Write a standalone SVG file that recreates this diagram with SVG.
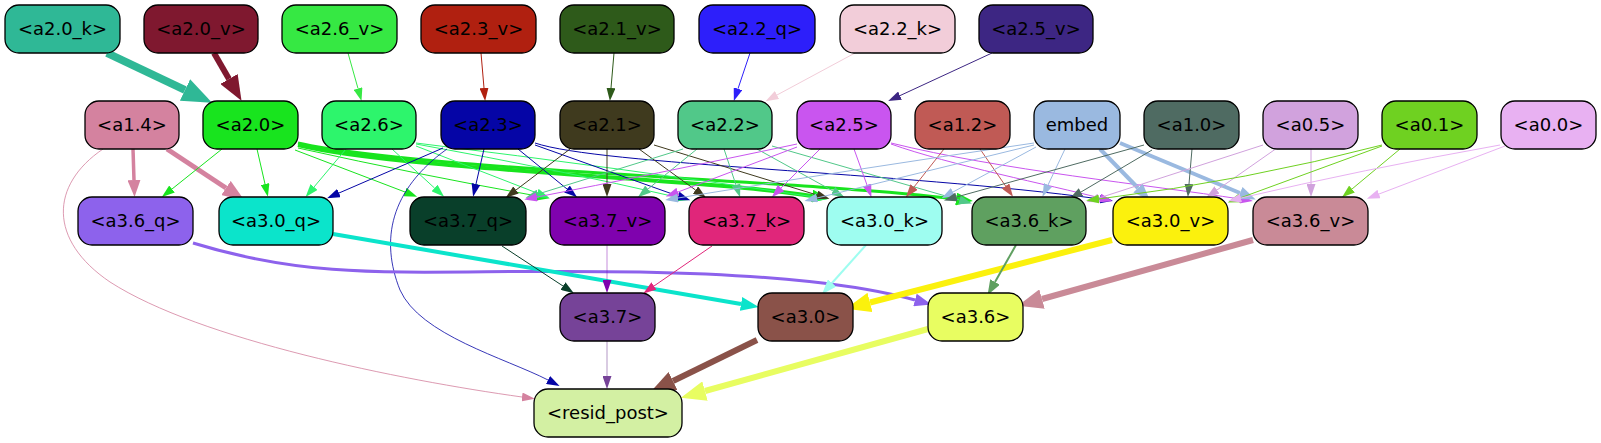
<svg xmlns="http://www.w3.org/2000/svg" width="1601" height="443" viewBox="0 0 1601 443">
<style>
.node rect{stroke:#000;stroke-width:1.3}
.node text{font-family:"DejaVu Sans","Liberation Sans",sans-serif;font-size:18px;text-anchor:middle;fill:#000}
#edges path{fill:none;stroke-width:1}
</style>
<defs>
<marker id="t-36e843" markerUnits="userSpaceOnUse" markerWidth="13" markerHeight="9" viewBox="0 0 13 9" refX="0" refY="4.5" orient="auto"><path d="M0,0L13,4.5L0,9z" fill="#36e843"/></marker>
<marker id="t-b02010" markerUnits="userSpaceOnUse" markerWidth="13" markerHeight="9" viewBox="0 0 13 9" refX="0" refY="4.5" orient="auto"><path d="M0,0L13,4.5L0,9z" fill="#b02010"/></marker>
<marker id="t-2e5a1a" markerUnits="userSpaceOnUse" markerWidth="13" markerHeight="9" viewBox="0 0 13 9" refX="0" refY="4.5" orient="auto"><path d="M0,0L13,4.5L0,9z" fill="#2e5a1a"/></marker>
<marker id="t-2d1ffa" markerUnits="userSpaceOnUse" markerWidth="13" markerHeight="9" viewBox="0 0 13 9" refX="0" refY="4.5" orient="auto"><path d="M0,0L13,4.5L0,9z" fill="#2d1ffa"/></marker>
<marker id="t-f2cdd9" markerUnits="userSpaceOnUse" markerWidth="13" markerHeight="9" viewBox="0 0 13 9" refX="0" refY="4.5" orient="auto"><path d="M0,0L13,4.5L0,9z" fill="#f2cdd9"/></marker>
<marker id="t-3d2683" markerUnits="userSpaceOnUse" markerWidth="13" markerHeight="9" viewBox="0 0 13 9" refX="0" refY="4.5" orient="auto"><path d="M0,0L13,4.5L0,9z" fill="#3d2683"/></marker>
<marker id="t-d4829f" markerUnits="userSpaceOnUse" markerWidth="13" markerHeight="9" viewBox="0 0 13 9" refX="0" refY="4.5" orient="auto"><path d="M0,0L13,4.5L0,9z" fill="#d4829f"/></marker>
<marker id="t-18e41e" markerUnits="userSpaceOnUse" markerWidth="13" markerHeight="9" viewBox="0 0 13 9" refX="0" refY="4.5" orient="auto"><path d="M0,0L13,4.5L0,9z" fill="#18e41e"/></marker>
<marker id="t-2df56c" markerUnits="userSpaceOnUse" markerWidth="13" markerHeight="9" viewBox="0 0 13 9" refX="0" refY="4.5" orient="auto"><path d="M0,0L13,4.5L0,9z" fill="#2df56c"/></marker>
<marker id="t-0505a6" markerUnits="userSpaceOnUse" markerWidth="13" markerHeight="9" viewBox="0 0 13 9" refX="0" refY="4.5" orient="auto"><path d="M0,0L13,4.5L0,9z" fill="#0505a6"/></marker>
<marker id="t-3f3a1e" markerUnits="userSpaceOnUse" markerWidth="13" markerHeight="9" viewBox="0 0 13 9" refX="0" refY="4.5" orient="auto"><path d="M0,0L13,4.5L0,9z" fill="#3f3a1e"/></marker>
<marker id="t-51c889" markerUnits="userSpaceOnUse" markerWidth="13" markerHeight="9" viewBox="0 0 13 9" refX="0" refY="4.5" orient="auto"><path d="M0,0L13,4.5L0,9z" fill="#51c889"/></marker>
<marker id="t-c955ef" markerUnits="userSpaceOnUse" markerWidth="13" markerHeight="9" viewBox="0 0 13 9" refX="0" refY="4.5" orient="auto"><path d="M0,0L13,4.5L0,9z" fill="#c955ef"/></marker>
<marker id="t-c05a55" markerUnits="userSpaceOnUse" markerWidth="13" markerHeight="9" viewBox="0 0 13 9" refX="0" refY="4.5" orient="auto"><path d="M0,0L13,4.5L0,9z" fill="#c05a55"/></marker>
<marker id="t-9ab9e0" markerUnits="userSpaceOnUse" markerWidth="13" markerHeight="9" viewBox="0 0 13 9" refX="0" refY="4.5" orient="auto"><path d="M0,0L13,4.5L0,9z" fill="#9ab9e0"/></marker>
<marker id="t-4f6b62" markerUnits="userSpaceOnUse" markerWidth="13" markerHeight="9" viewBox="0 0 13 9" refX="0" refY="4.5" orient="auto"><path d="M0,0L13,4.5L0,9z" fill="#4f6b62"/></marker>
<marker id="t-d1a2dd" markerUnits="userSpaceOnUse" markerWidth="13" markerHeight="9" viewBox="0 0 13 9" refX="0" refY="4.5" orient="auto"><path d="M0,0L13,4.5L0,9z" fill="#d1a2dd"/></marker>
<marker id="t-6fd121" markerUnits="userSpaceOnUse" markerWidth="13" markerHeight="9" viewBox="0 0 13 9" refX="0" refY="4.5" orient="auto"><path d="M0,0L13,4.5L0,9z" fill="#6fd121"/></marker>
<marker id="t-e8b1f2" markerUnits="userSpaceOnUse" markerWidth="13" markerHeight="9" viewBox="0 0 13 9" refX="0" refY="4.5" orient="auto"><path d="M0,0L13,4.5L0,9z" fill="#e8b1f2"/></marker>
<marker id="t-093f2a" markerUnits="userSpaceOnUse" markerWidth="13" markerHeight="9" viewBox="0 0 13 9" refX="0" refY="4.5" orient="auto"><path d="M0,0L13,4.5L0,9z" fill="#093f2a"/></marker>
<marker id="t-7f02ae" markerUnits="userSpaceOnUse" markerWidth="13" markerHeight="9" viewBox="0 0 13 9" refX="0" refY="4.5" orient="auto"><path d="M0,0L13,4.5L0,9z" fill="#7f02ae"/></marker>
<marker id="t-e0267a" markerUnits="userSpaceOnUse" markerWidth="13" markerHeight="9" viewBox="0 0 13 9" refX="0" refY="4.5" orient="auto"><path d="M0,0L13,4.5L0,9z" fill="#e0267a"/></marker>
<marker id="t-764398" markerUnits="userSpaceOnUse" markerWidth="13" markerHeight="9" viewBox="0 0 13 9" refX="0" refY="4.5" orient="auto"><path d="M0,0L13,4.5L0,9z" fill="#764398"/></marker>
<marker id="m-d4829f" markerUnits="userSpaceOnUse" markerWidth="17" markerHeight="13" viewBox="0 0 17 13" refX="0" refY="6.5" orient="auto"><path d="M0,0L17,6.5L0,13z" fill="#d4829f"/></marker>
<marker id="m-18e41e" markerUnits="userSpaceOnUse" markerWidth="17" markerHeight="13" viewBox="0 0 17 13" refX="0" refY="6.5" orient="auto"><path d="M0,0L17,6.5L0,13z" fill="#18e41e"/></marker>
<marker id="m-9ab9e0" markerUnits="userSpaceOnUse" markerWidth="17" markerHeight="13" viewBox="0 0 17 13" refX="0" refY="6.5" orient="auto"><path d="M0,0L17,6.5L0,13z" fill="#9ab9e0"/></marker>
<marker id="m-8d62ec" markerUnits="userSpaceOnUse" markerWidth="17" markerHeight="13" viewBox="0 0 17 13" refX="0" refY="6.5" orient="auto"><path d="M0,0L17,6.5L0,13z" fill="#8d62ec"/></marker>
<marker id="m-0be4cb" markerUnits="userSpaceOnUse" markerWidth="18" markerHeight="14" viewBox="0 0 18 14" refX="0" refY="7" orient="auto"><path d="M0,0L18,7L0,14z" fill="#0be4cb"/></marker>
<marker id="m-9efdf0" markerUnits="userSpaceOnUse" markerWidth="15" markerHeight="11" viewBox="0 0 15 11" refX="0" refY="5.5" orient="auto"><path d="M0,0L15,5.5L0,11z" fill="#9efdf0"/></marker>
<marker id="m-5fa060" markerUnits="userSpaceOnUse" markerWidth="15" markerHeight="11" viewBox="0 0 15 11" refX="0" refY="5.5" orient="auto"><path d="M0,0L15,5.5L0,11z" fill="#5fa060"/></marker>
<marker id="l-d4829f" markerUnits="userSpaceOnUse" markerWidth="22" markerHeight="17" viewBox="0 0 22 17" refX="0" refY="8.5" orient="auto"><path d="M0,0L22,8.5L0,17z" fill="#d4829f"/></marker>
<marker id="l-7f182f" markerUnits="userSpaceOnUse" markerWidth="25" markerHeight="20" viewBox="0 0 25 20" refX="0" refY="10" orient="auto"><path d="M0,0L25,10L0,20z" fill="#7f182f"/></marker>
<marker id="l-fbf10d" markerUnits="userSpaceOnUse" markerWidth="25" markerHeight="20" viewBox="0 0 25 20" refX="0" refY="10" orient="auto"><path d="M0,0L25,10L0,20z" fill="#fbf10d"/></marker>
<marker id="l-c98a97" markerUnits="userSpaceOnUse" markerWidth="25" markerHeight="20" viewBox="0 0 25 20" refX="0" refY="10" orient="auto"><path d="M0,0L25,10L0,20z" fill="#c98a97"/></marker>
<marker id="l-8a5249" markerUnits="userSpaceOnUse" markerWidth="25" markerHeight="20" viewBox="0 0 25 20" refX="0" refY="10" orient="auto"><path d="M0,0L25,10L0,20z" fill="#8a5249"/></marker>
<marker id="l-e8fd61" markerUnits="userSpaceOnUse" markerWidth="25" markerHeight="20" viewBox="0 0 25 20" refX="0" refY="10" orient="auto"><path d="M0,0L25,10L0,20z" fill="#e8fd61"/></marker>
<marker id="l-2fb896" markerUnits="userSpaceOnUse" markerWidth="30" markerHeight="24" viewBox="0 0 30 24" refX="0" refY="12" orient="auto"><path d="M0,0L30,12L0,24z" fill="#2fb896"/></marker>
</defs>
<rect width="1601" height="443" fill="#fff"/>
<g id="edges">
<path d="M107,53 L185,90" stroke="#2fb896" style="stroke-width:8" marker-end="url(#l-2fb896)"/>
<path d="M214,53 L229,79" stroke="#7f182f" style="stroke-width:6" marker-end="url(#l-7f182f)"/>
<path d="M348,53 L358,88.5" stroke="#36e843" marker-end="url(#t-36e843)"/>
<path d="M481,53 L484,88" stroke="#b02010" marker-end="url(#t-b02010)"/>
<path d="M614,53 L611,88" stroke="#2e5a1a" marker-end="url(#t-2e5a1a)"/>
<path d="M750,53 L738,88.7" stroke="#2d1ffa" marker-end="url(#t-2d1ffa)"/>
<path d="M855,53 L777,95" stroke="#f2cdd9" marker-end="url(#t-f2cdd9)"/>
<path d="M992,53 L900,95.6" stroke="#3d2683" marker-end="url(#t-3d2683)"/>
<path d="M133,149 L134,180" stroke="#d4829f" style="stroke-width:3.5" marker-end="url(#m-d4829f)"/>
<path d="M167,149 L226,188" stroke="#d4829f" style="stroke-width:5" marker-end="url(#l-d4829f)"/>
<path d="M103,149 C50,185 48,240 110,282 C200,340 400,380 522,397" stroke="#d4829f" stroke-opacity="0.9" style="stroke-width:0.9" marker-end="url(#t-d4829f)"/>
<path d="M222,149 L172,189" stroke="#18e41e" marker-end="url(#t-18e41e)"/>
<path d="M257,149 L265,184" stroke="#18e41e" marker-end="url(#t-18e41e)"/>
<path d="M295,150 L405,192" stroke="#18e41e" marker-end="url(#t-18e41e)"/>
<path d="M298,148 Q420,175 537,196" stroke="#18e41e" marker-end="url(#t-18e41e)"/>
<path d="M298,145 C400,170 700,178 812,196" stroke="#18e41e" style="stroke-width:4" marker-end="url(#m-18e41e)"/>
<path d="M298,143 C420,170 800,180 956,199" stroke="#18e41e" style="stroke-width:3" marker-end="url(#m-18e41e)"/>
<path d="M346,149 L314,187" stroke="#2df56c" marker-end="url(#t-2df56c)"/>
<path d="M392,149 L434.5,188" stroke="#2df56c" marker-end="url(#t-2df56c)"/>
<path d="M416,146 L537,193" stroke="#2df56c" marker-end="url(#t-2df56c)"/>
<path d="M416,144 Q560,170 676,197" stroke="#2df56c" marker-end="url(#t-2df56c)"/>
<path d="M416,143 Q620,168 815,197" stroke="#2df56c" marker-end="url(#t-2df56c)"/>
<path d="M443,148 L339,193" stroke="#0505a6" marker-end="url(#t-0505a6)"/>
<path d="M484,149 L476,184" stroke="#0505a6" marker-end="url(#t-0505a6)"/>
<path d="M518,149 L567,189" stroke="#0505a6" marker-end="url(#t-0505a6)"/>
<path d="M535,145 L678,196" stroke="#0505a6" marker-end="url(#t-0505a6)"/>
<path d="M535,143 C600,165 900,172 1100,199" stroke="#0505a6" marker-end="url(#t-0505a6)"/>
<path d="M447,149 C390,190 380,240 400,290 C420,335 505,358 548,380" stroke="#0505a6" style="stroke-width:0.8" marker-end="url(#t-0505a6)"/>
<path d="M570,149 L516,190" stroke="#3f3a1e" marker-end="url(#t-3f3a1e)"/>
<path d="M607,149 L607,184" stroke="#3f3a1e" marker-end="url(#t-3f3a1e)"/>
<path d="M639,149 L695.5,190" stroke="#3f3a1e" marker-end="url(#t-3f3a1e)"/>
<path d="M654,145 L817,195" stroke="#3f3a1e" marker-end="url(#t-3f3a1e)"/>
<path d="M683,149 L538,194" stroke="#51c889" marker-end="url(#t-51c889)"/>
<path d="M697,149 L648,189" stroke="#51c889" marker-end="url(#t-51c889)"/>
<path d="M724,149 L736,185" stroke="#51c889" marker-end="url(#t-51c889)"/>
<path d="M757,149 L833,191" stroke="#51c889" marker-end="url(#t-51c889)"/>
<path d="M772,146 L959.5,200" stroke="#51c889" marker-end="url(#t-51c889)"/>
<path d="M797,144 Q650,175 537,197" stroke="#c955ef" marker-end="url(#t-c955ef)"/>
<path d="M797,147 L678,192" stroke="#c955ef" marker-end="url(#t-c955ef)"/>
<path d="M820,149 L781,188" stroke="#c955ef" marker-end="url(#t-c955ef)"/>
<path d="M854,149 L867,185" stroke="#c955ef" marker-end="url(#t-c955ef)"/>
<path d="M891,144 C950,165 1050,185 1100,198" stroke="#c955ef" marker-end="url(#t-c955ef)"/>
<path d="M891,143 C1000,170 1150,185 1240,199" stroke="#c955ef" marker-end="url(#t-c955ef)"/>
<path d="M944,149 L914,187" stroke="#c05a55" marker-end="url(#t-c05a55)"/>
<path d="M980,149 L1005.6,186" stroke="#c05a55" marker-end="url(#t-c05a55)"/>
<path d="M1034,143 Q850,170 678,198" stroke="#9ab9e0" marker-end="url(#t-9ab9e0)"/>
<path d="M1034,145 L817,198" stroke="#9ab9e0" marker-end="url(#t-9ab9e0)"/>
<path d="M1036,147 L953,192" stroke="#9ab9e0" marker-end="url(#t-9ab9e0)"/>
<path d="M1065,149 L1048,185" stroke="#9ab9e0" marker-end="url(#t-9ab9e0)"/>
<path d="M1100,149 L1138,188" stroke="#9ab9e0" style="stroke-width:4" marker-end="url(#m-9ab9e0)"/>
<path d="M1120,143 L1240,193" stroke="#9ab9e0" style="stroke-width:4" marker-end="url(#m-9ab9e0)"/>
<path d="M1144,145 L956.5,197" stroke="#4f6b62" marker-end="url(#t-4f6b62)"/>
<path d="M1152,150 L1081,192" stroke="#4f6b62" marker-end="url(#t-4f6b62)"/>
<path d="M1192,149 L1189,184" stroke="#4f6b62" marker-end="url(#t-4f6b62)"/>
<path d="M1263,145 L1099,198" stroke="#d1a2dd" marker-end="url(#t-d1a2dd)"/>
<path d="M1277,148 L1217,190" stroke="#d1a2dd" marker-end="url(#t-d1a2dd)"/>
<path d="M1311,149 L1311,184" stroke="#d1a2dd" marker-end="url(#t-d1a2dd)"/>
<path d="M1382,145 Q1250,180 1099,199" stroke="#6fd121" marker-end="url(#t-6fd121)"/>
<path d="M1382,146 L1240,198" stroke="#6fd121" marker-end="url(#t-6fd121)"/>
<path d="M1400,149 L1352,189" stroke="#6fd121" marker-end="url(#t-6fd121)"/>
<path d="M1500,145 Q1360,170 1241,198" stroke="#e8b1f2" marker-end="url(#t-e8b1f2)"/>
<path d="M1505,146 L1379,194" stroke="#e8b1f2" marker-end="url(#t-e8b1f2)"/>
<path d="M193,243 C330,285 420,268 640,272 C780,275 860,285 915,300" stroke="#8d62ec" style="stroke-width:3" marker-end="url(#m-8d62ec)"/>
<path d="M333,234 L741,304" stroke="#0be4cb" style="stroke-width:4" marker-end="url(#m-0be4cb)"/>
<path d="M502,246 L563,286" stroke="#093f2a" marker-end="url(#t-093f2a)"/>
<path d="M607,245 L607,280" stroke="#7f02ae" stroke-opacity="0.45" marker-end="url(#t-7f02ae)"/>
<path d="M712,246 L654,286" stroke="#e0267a" marker-end="url(#t-e0267a)"/>
<path d="M866,245 L832,283" stroke="#9efdf0" style="stroke-width:2" marker-end="url(#m-9efdf0)"/>
<path d="M1112,240 L870,302.5" stroke="#fbf10d" style="stroke-width:6" marker-end="url(#l-fbf10d)"/>
<path d="M1016,245 L995,282" stroke="#5fa060" style="stroke-width:2" marker-end="url(#m-5fa060)"/>
<path d="M1253,240 L1042,299" stroke="#c98a97" style="stroke-width:6" marker-end="url(#l-c98a97)"/>
<path d="M607,341 L607,376" stroke="#764398" stroke-opacity="0.55" marker-end="url(#t-764398)"/>
<path d="M757,340 L673,381" stroke="#8a5249" style="stroke-width:6" marker-end="url(#l-8a5249)"/>
<path d="M928,329 L705,391" stroke="#e8fd61" style="stroke-width:6" marker-end="url(#l-e8fd61)"/>
</g>
<g id="node-a2_0_k" class="node"><rect x="5" y="5" width="115" height="48" rx="14" fill="#2fb896"/><text x="62.5" y="35">&lt;a2.0_k&gt;</text></g>
<g id="node-a2_0_v" class="node"><rect x="144" y="5" width="114" height="48" rx="14" fill="#7f182f"/><text x="201" y="35">&lt;a2.0_v&gt;</text></g>
<g id="node-a2_6_v" class="node"><rect x="282" y="5" width="115" height="48" rx="14" fill="#36e843"/><text x="339.5" y="35">&lt;a2.6_v&gt;</text></g>
<g id="node-a2_3_v" class="node"><rect x="421" y="5" width="115" height="48" rx="14" fill="#b02010"/><text x="478.5" y="35">&lt;a2.3_v&gt;</text></g>
<g id="node-a2_1_v" class="node"><rect x="560" y="5" width="114" height="48" rx="14" fill="#2e5a1a"/><text x="617" y="35">&lt;a2.1_v&gt;</text></g>
<g id="node-a2_2_q" class="node"><rect x="699" y="5" width="116" height="48" rx="14" fill="#2d1ffa"/><text x="757" y="35">&lt;a2.2_q&gt;</text></g>
<g id="node-a2_2_k" class="node"><rect x="840" y="5" width="115" height="48" rx="14" fill="#f2cdd9"/><text x="897.5" y="35">&lt;a2.2_k&gt;</text></g>
<g id="node-a2_5_v" class="node"><rect x="979" y="5" width="114" height="48" rx="14" fill="#3d2683"/><text x="1036" y="35">&lt;a2.5_v&gt;</text></g>
<g id="node-a1_4" class="node"><rect x="85" y="101" width="94" height="48" rx="14" fill="#d4829f"/><text x="132" y="131">&lt;a1.4&gt;</text></g>
<g id="node-a2_0" class="node"><rect x="203" y="101" width="95" height="48" rx="14" fill="#18e41e"/><text x="250.5" y="131">&lt;a2.0&gt;</text></g>
<g id="node-a2_6" class="node"><rect x="322" y="101" width="94" height="48" rx="14" fill="#2df56c"/><text x="369" y="131">&lt;a2.6&gt;</text></g>
<g id="node-a2_3" class="node"><rect x="441" y="101" width="94" height="48" rx="14" fill="#0505a6"/><text x="488" y="131">&lt;a2.3&gt;</text></g>
<g id="node-a2_1" class="node"><rect x="560" y="101" width="94" height="48" rx="14" fill="#3f3a1e"/><text x="607" y="131">&lt;a2.1&gt;</text></g>
<g id="node-a2_2" class="node"><rect x="678" y="101" width="94" height="48" rx="14" fill="#51c889"/><text x="725" y="131">&lt;a2.2&gt;</text></g>
<g id="node-a2_5" class="node"><rect x="797" y="101" width="94" height="48" rx="14" fill="#c955ef"/><text x="844" y="131">&lt;a2.5&gt;</text></g>
<g id="node-a1_2" class="node"><rect x="915" y="101" width="95" height="48" rx="14" fill="#c05a55"/><text x="962.5" y="131">&lt;a1.2&gt;</text></g>
<g id="node-embed" class="node"><rect x="1034" y="101" width="86" height="48" rx="14" fill="#9ab9e0"/><text x="1077" y="131">embed</text></g>
<g id="node-a1_0" class="node"><rect x="1144" y="101" width="95" height="48" rx="14" fill="#4f6b62"/><text x="1191.5" y="131">&lt;a1.0&gt;</text></g>
<g id="node-a0_5" class="node"><rect x="1263" y="101" width="95" height="48" rx="14" fill="#d1a2dd"/><text x="1310.5" y="131">&lt;a0.5&gt;</text></g>
<g id="node-a0_1" class="node"><rect x="1382" y="101" width="95" height="48" rx="14" fill="#6fd121"/><text x="1429.5" y="131">&lt;a0.1&gt;</text></g>
<g id="node-a0_0" class="node"><rect x="1501" y="101" width="95" height="48" rx="14" fill="#e8b1f2"/><text x="1548.5" y="131">&lt;a0.0&gt;</text></g>
<g id="node-a3_6_q" class="node"><rect x="78" y="197" width="115" height="48" rx="14" fill="#8d62ec"/><text x="135.5" y="227">&lt;a3.6_q&gt;</text></g>
<g id="node-a3_0_q" class="node"><rect x="219" y="197" width="114" height="48" rx="14" fill="#0be4cb"/><text x="276" y="227">&lt;a3.0_q&gt;</text></g>
<g id="node-a3_7_q" class="node"><rect x="410" y="197" width="116" height="48" rx="14" fill="#093f2a"/><text x="468" y="227">&lt;a3.7_q&gt;</text></g>
<g id="node-a3_7_v" class="node"><rect x="550" y="197" width="115" height="48" rx="14" fill="#7f02ae"/><text x="607.5" y="227">&lt;a3.7_v&gt;</text></g>
<g id="node-a3_7_k" class="node"><rect x="689" y="197" width="115" height="48" rx="14" fill="#e0267a"/><text x="746.5" y="227">&lt;a3.7_k&gt;</text></g>
<g id="node-a3_0_k" class="node"><rect x="827" y="197" width="115" height="48" rx="14" fill="#9efdf0"/><text x="884.5" y="227">&lt;a3.0_k&gt;</text></g>
<g id="node-a3_6_k" class="node"><rect x="972" y="197" width="114" height="48" rx="14" fill="#5fa060"/><text x="1029" y="227">&lt;a3.6_k&gt;</text></g>
<g id="node-a3_0_v" class="node"><rect x="1113" y="197" width="115" height="48" rx="14" fill="#fbf10d"/><text x="1170.5" y="227">&lt;a3.0_v&gt;</text></g>
<g id="node-a3_6_v" class="node"><rect x="1253" y="197" width="115" height="48" rx="14" fill="#c98a97"/><text x="1310.5" y="227">&lt;a3.6_v&gt;</text></g>
<g id="node-a3_7" class="node"><rect x="560" y="293" width="95" height="48" rx="14" fill="#764398"/><text x="607.5" y="323">&lt;a3.7&gt;</text></g>
<g id="node-a3_0" class="node"><rect x="758" y="293" width="95" height="48" rx="14" fill="#8a5249"/><text x="805.5" y="323">&lt;a3.0&gt;</text></g>
<g id="node-a3_6" class="node"><rect x="928" y="293" width="95" height="48" rx="14" fill="#e8fd61"/><text x="975.5" y="323">&lt;a3.6&gt;</text></g>
<g id="node-resid_post" class="node"><rect x="534" y="389" width="148" height="48" rx="14" fill="#d3f0a3"/><text x="608" y="419">&lt;resid_post&gt;</text></g>
</svg>
